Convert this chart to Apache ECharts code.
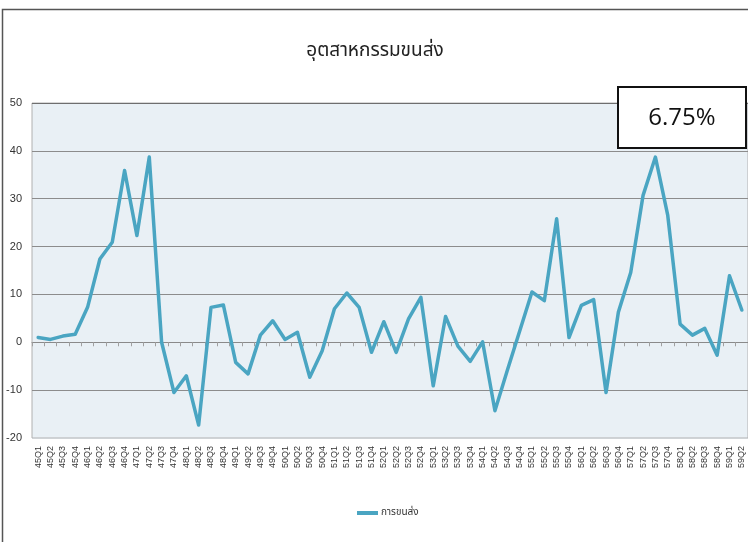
<!DOCTYPE html>
<html>
<head>
<meta charset="utf-8">
<script src="https://cdn.jsdelivr.net/npm/echarts@6/dist/echarts.min.js"></script>
<style>
html,body{margin:0;padding:0;background:#fff;}
#c{width:748px;height:542px;}
</style>
</head>
<body>
<div id="c"></div>
<script>
const titleText = 'อุตสาหกรรมขนส่ง';
const seriesName = 'การขนส่ง';
const boxText = '6.75%';
const categories = [
  '45Q1','45Q2','45Q3','45Q4','46Q1','46Q2','46Q3','46Q4','47Q1','47Q2','47Q3','47Q4',
  '48Q1','48Q2','48Q3','48Q4','49Q1','49Q2','49Q3','49Q4','50Q1','50Q2','50Q3','50Q4',
  '51Q1','51Q2','51Q3','51Q4','52Q1','52Q2','52Q3','52Q4','53Q1','53Q2','53Q3','53Q4',
  '54Q1','54Q2','54Q3','54Q4','55Q1','55Q2','55Q3','55Q4','56Q1','56Q2','56Q3','56Q4',
  '57Q1','57Q2','57Q3','57Q4','58Q1','58Q2','58Q3','58Q4','59Q1','59Q2'
];
const values = [
  1.0, 0.6, 1.3, 1.7, 7.3, 17.4, 20.9, 35.9, 22.3, 38.7, 0.0, -10.5,
  -7.0, -17.3, 7.3, 7.8, -4.2, -6.6, 1.5, 4.5, 0.6, 2.1, -7.3, -1.8,
  7.0, 10.3, 7.3, -2.1, 4.3, -2.1, 4.9, 9.4, -9.1, 5.4, -0.8, -4.0,
  0.1, -14.3, -5.9, 2.3, 10.5, 8.7, 25.8, 1.0, 7.7, 8.9, -10.5, 6.3,
  14.6, 30.7, 38.7, 26.5, 3.8, 1.5, 2.9, -2.7, 13.9, 6.75
];
const yTicks = { min: -20, max: 50, interval: 10 };

const chart = echarts.init(document.getElementById('c'), null, { renderer: 'canvas' });
const thaiFont = "'Noto Sans Thai','Noto Sans Thai UI','Loma','Garuda','Tahoma','DejaVu Sans',sans-serif";
chart.setOption({
  animation: false,
  backgroundColor: '#ffffff',
  title: {
    text: titleText,
    left: 370, textAlign: 'center',
    top: 38,
    textStyle: { fontSize: 19, fontWeight: 'normal', color: '#222', fontFamily: thaiFont }
  },
  legend: {
    data: [seriesName],
    left: 352, top: 503,
    icon: 'rect', itemWidth: 21, itemHeight: 4, itemGap: 4,
    textStyle: { fontSize: 10, color: '#333', fontFamily: thaiFont, padding: [0,0,0,-2] }
  },
  grid: {
    left: 32, top: 103, width: 721, height: 335,
    show: true, backgroundColor: '#e9f0f5', borderColor: '#b0b0b0', borderWidth: 1
  },
  xAxis: [
    {
      type: 'category', data: categories, boundaryGap: true,
      axisLine: { onZero: true, lineStyle: { color: '#8a8a8a', width: 1 } },
      axisTick: { show: true, interval: 0, length: 4, lineStyle: { color: '#a0a0a0' } },
      axisLabel: { show: false },
      splitLine: { show: false }
    },
    {
      type: 'category', data: categories, boundaryGap: true, position: 'bottom',
      axisLine: { show: false, onZero: false },
      axisTick: { show: false },
      axisLabel: { rotate: 90, fontSize: 9, color: '#333', margin: 8, interval: 0,
        fontFamily: "'Liberation Sans Narrow','Liberation Sans',sans-serif" },
      splitLine: { show: false }
    }
  ],
  yAxis: {
    type: 'value', min: yTicks.min, max: yTicks.max, interval: yTicks.interval,
    axisLine: { show: false }, axisTick: { show: false },
    axisLabel: { fontSize: 11, color: '#333', margin: 10,
      fontFamily: "'Liberation Sans Narrow','Liberation Sans',sans-serif" },
    splitLine: { show: true, lineStyle: { width: 1,
      color: ['#cfd3d6','#8c8c8c','#8c8c8c','#8c8c8c','#8c8c8c','#8c8c8c','#8c8c8c','#6e6e6e'] } }
  },
  series: [{
    name: seriesName, type: 'line', xAxisIndex: 0, data: values,
    showSymbol: false, symbol: 'none',
    lineStyle: { color: '#4aa5c2', width: 3.5, join: 'round', cap: 'round' },
    itemStyle: { color: '#4aa5c2' },
    z: 5
  }],
  graphic: [
    { type: 'rect', shape: { x: 2.5, y: 9.5, width: 800, height: 600 },
      style: { fill: 'none', stroke: '#555', lineWidth: 1.5 }, z: 100, silent: true },
    { type: 'rect', shape: { x: 618, y: 87, width: 128, height: 61 },
      style: { fill: '#fff', stroke: '#111', lineWidth: 2 }, z: 100 },
    { type: 'text', x: 682, y: 118, z: 101,
      style: { text: boxText, fontSize: 24, fill: '#111', align: 'center', verticalAlign: 'middle',
        fontFamily: "'Open Sans','Noto Sans',sans-serif" } }
  ]
});
</script>
</body>
</html>
